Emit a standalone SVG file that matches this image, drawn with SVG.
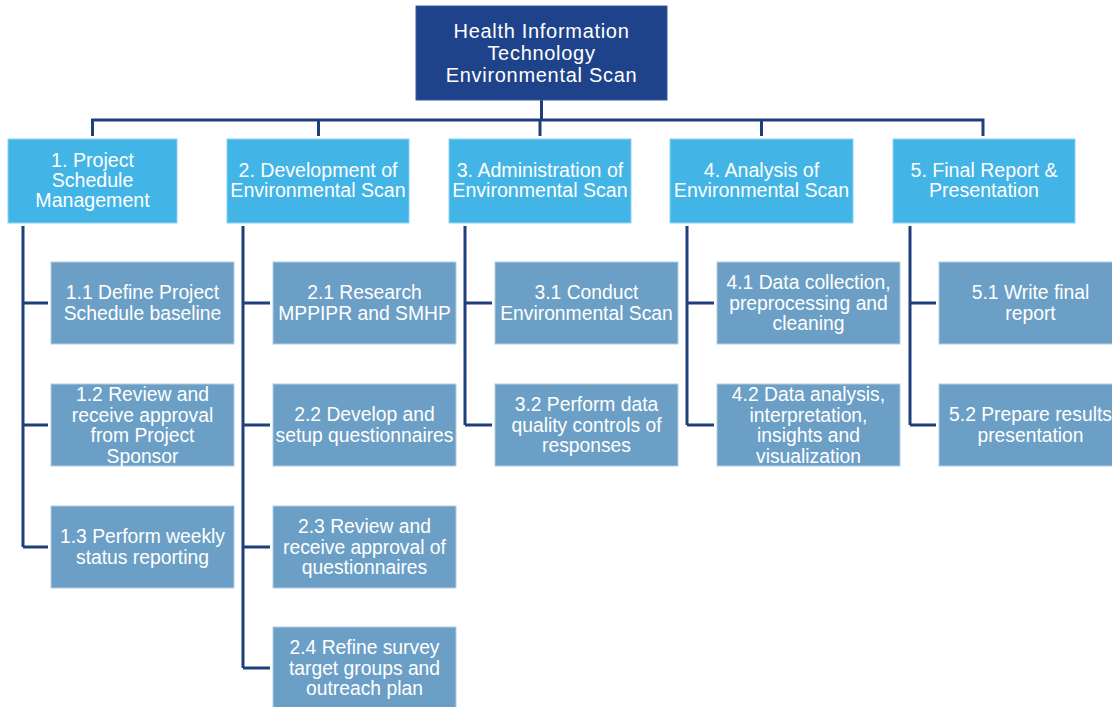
<svg xmlns="http://www.w3.org/2000/svg" width="1112" height="707" viewBox="0 0 1112 707">
<style>
text{font-family:"Liberation Sans",Arial,sans-serif;fill:#ffffff;text-anchor:middle}
.root rect{fill:#1F438A;stroke:#3a5a9a;stroke-width:1}
.root text{font-size:20px;letter-spacing:0.7px}
.l1 rect{fill:#42B4E6;stroke:#8fd3f0;stroke-width:1}
.l1 text{font-size:19.6px}
.l2 rect{fill:#6C9FC6;stroke:#b3cde2;stroke-width:1}
.l2 text{font-size:19.3px}
.conn path{fill:none;stroke:#1F3E7C;stroke-width:3}
</style>
<g id="connectors" class="conn">
<path d="M541.5 100V120M92.5 136V120H983V136M318.5 120V136M540 120V136M761.5 120V136"/>
<path d="M23 226V547M23 303H48M23 425H48M23 547H48"/>
<path d="M243 226V668M243 303H270M243 425H270M243 547H270M243 668H270"/>
<path d="M465 226V425M465 303H492M465 425H492"/>
<path d="M687 226V425M687 303H714M687 425H714"/>
<path d="M910 226V425M910 303H936M910 425H936"/>
</g>
<g id="root" class="root"><rect x="416" y="6" width="251" height="94"/>
<text x="541.5" y="38">Health Information</text><text x="541.5" y="60">Technology</text><text x="541.5" y="82">Environmental Scan</text></g>
<g id="n1" class="l1"><rect x="8" y="139" width="169" height="84"/>
<text x="92.5" y="167">1. Project</text><text x="92.5" y="187">Schedule</text><text x="92.5" y="207">Management</text></g>
<g id="n2" class="l1"><rect x="227" y="139" width="182" height="84"/>
<text x="318" y="177">2. Development of</text><text x="318" y="197">Environmental Scan</text></g>
<g id="n3" class="l1"><rect x="449" y="139" width="182" height="84"/>
<text x="540" y="177">3. Administration of</text><text x="540" y="197">Environmental Scan</text></g>
<g id="n4" class="l1"><rect x="670" y="139" width="183" height="84"/>
<text x="761.5" y="177">4. Analysis of</text><text x="761.5" y="197">Environmental Scan</text></g>
<g id="n5" class="l1"><rect x="893" y="139" width="182" height="84"/>
<text x="984" y="177">5. Final Report &amp;</text><text x="984" y="197">Presentation</text></g>
<g id="n1_1" class="l2"><rect x="51" y="262" width="183" height="82"/>
<text x="142.5" y="299">1.1 Define Project</text><text x="142.5" y="320">Schedule baseline</text></g>
<g id="n1_2" class="l2"><rect x="51" y="384" width="183" height="82"/>
<text x="142.5" y="401">1.2 Review and</text><text x="142.5" y="421.5">receive approval</text><text x="142.5" y="442">from Project</text><text x="142.5" y="462.5">Sponsor</text></g>
<g id="n1_3" class="l2"><rect x="51" y="506" width="183" height="82"/>
<text x="142.5" y="543">1.3 Perform weekly</text><text x="142.5" y="564">status reporting</text></g>
<g id="n2_1" class="l2"><rect x="273" y="262" width="183" height="82"/>
<text x="364.5" y="299">2.1 Research</text><text x="364.5" y="320">MPPIPR and SMHP</text></g>
<g id="n2_2" class="l2"><rect x="273" y="384" width="183" height="82"/>
<text x="364.5" y="421">2.2 Develop and</text><text x="364.5" y="442">setup questionnaires</text></g>
<g id="n2_3" class="l2"><rect x="273" y="506" width="183" height="82"/>
<text x="364.5" y="533">2.3 Review and</text><text x="364.5" y="553.5">receive approval of</text><text x="364.5" y="574">questionnaires</text></g>
<g id="n2_4" class="l2"><rect x="273" y="627" width="183" height="82"/>
<text x="364.5" y="654">2.4 Refine survey</text><text x="364.5" y="674.5">target groups and</text><text x="364.5" y="695">outreach plan</text></g>
<g id="n3_1" class="l2"><rect x="495" y="262" width="183" height="82"/>
<text x="586.5" y="299">3.1 Conduct</text><text x="586.5" y="320">Environmental Scan</text></g>
<g id="n3_2" class="l2"><rect x="495" y="384" width="183" height="82"/>
<text x="586.5" y="411">3.2 Perform data</text><text x="586.5" y="431.5">quality controls of</text><text x="586.5" y="452">responses</text></g>
<g id="n4_1" class="l2"><rect x="717" y="262" width="183" height="82"/>
<text x="808.5" y="289">4.1 Data collection,</text><text x="808.5" y="309.5">preprocessing and</text><text x="808.5" y="330">cleaning</text></g>
<g id="n4_2" class="l2"><rect x="717" y="384" width="183" height="82"/>
<text x="808.5" y="401">4.2 Data analysis,</text><text x="808.5" y="421.5">interpretation,</text><text x="808.5" y="442">insights and</text><text x="808.5" y="462.5">visualization</text></g>
<g id="n5_1" class="l2"><rect x="939" y="262" width="183" height="82"/>
<text x="1030.5" y="299">5.1 Write final</text><text x="1030.5" y="320">report</text></g>
<g id="n5_2" class="l2"><rect x="939" y="384" width="183" height="82"/>
<text x="1030.5" y="421">5.2 Prepare results</text><text x="1030.5" y="442">presentation</text></g>
</svg>
